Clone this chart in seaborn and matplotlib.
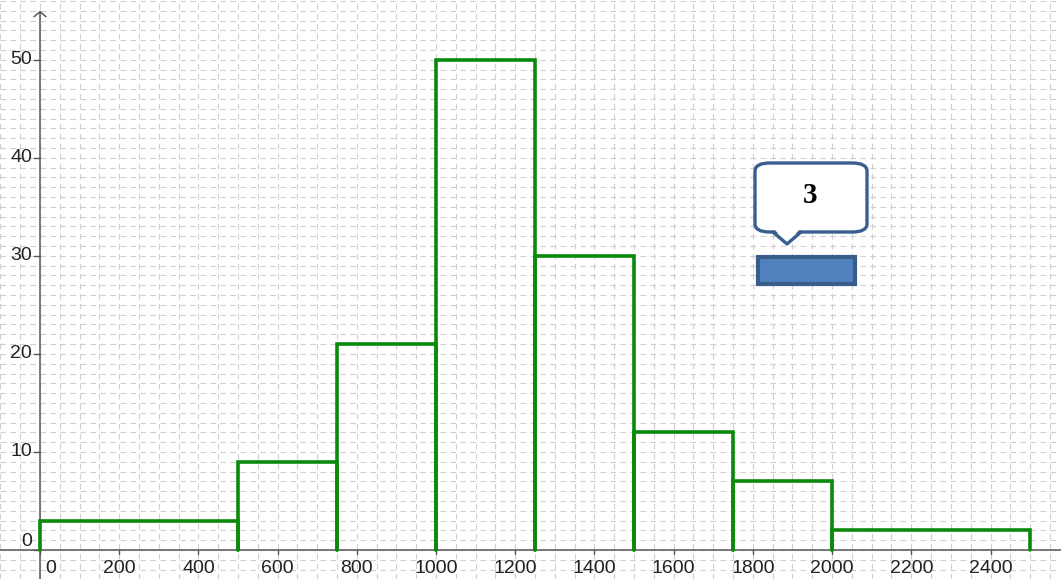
import numpy as np
import pandas as pd
import matplotlib
matplotlib.use("Agg")
import matplotlib.pyplot as plt
import seaborn as sns
from matplotlib.patches import FancyBboxPatch, Polygon, Rectangle
from matplotlib.lines import Line2D

# bin edges and frequency density
bin_edges = [0, 500, 750, 1000, 1250, 1500, 1750, 2000, 2500]
heights = [3, 9, 21, 50, 30, 12, 7, 2]
x_labels = [0, 200, 400, 600, 800, 1000, 1200, 1400, 1600, 1800, 2000, 2200, 2400]
y_labels = [0, 10, 20, 30, 40, 50]
callout_text = "3"

mids = [(a + b) / 2 for a, b in zip(bin_edges[:-1], bin_edges[1:])]
df = pd.DataFrame({"value": mids, "density": heights})

sns.set_style("white")
plt.rcParams["font.family"] = ["Liberation Sans", "DejaVu Sans"]

W, H = 1061, 579
fig = plt.figure(figsize=(W / 100, H / 100), dpi=100)
ax = fig.add_axes([0, 0, 1, 1])

# grid like geogebra: dashed light grey every 50 in x and 1 in y
for gx in np.arange(-100, 2600, 50):
    ax.axvline(gx, color="#cfcfcf", lw=0.8, ls=(0, (5, 4)), zorder=0)
for gy in np.arange(-3, 57, 1):
    ax.axhline(gy, color="#cfcfcf", lw=0.8, ls=(0, (5, 4)), zorder=0)

sns.histplot(data=df, x="value", weights="density", bins=bin_edges, stat="count",
             fill=False, color="#0a8a0a", linewidth=2.6, ax=ax, zorder=3)

# redraw bars as open outlines (no bottom edge, like the reference)
for p in list(ax.patches):
    x0, y0, w, h = p.get_x(), p.get_y(), p.get_width(), p.get_height()
    ax.plot([x0, x0, x0 + w, x0 + w], [y0, y0 + h, y0 + h, y0],
            color="#0a8a0a", lw=2.6, zorder=3, solid_joinstyle="miter")
    p.remove()

ax.set_xlim(-101, 2578)
ax.set_ylim(-2.96, 56.1)
for s in ax.spines.values():
    s.set_visible(False)
ax.set_xticks([])
ax.set_yticks([])
ax.set_xlabel("")
ax.set_ylabel("")

# axes lines
ax.axhline(0, color="#555555", lw=1.1, zorder=2)
ax.plot([0, 0], [-3, 54.9], color="#555555", lw=1.1, zorder=2)
ax.plot([-15, 0, 15], [54.4, 54.9, 54.4], color="#555555", lw=1.1, zorder=2,
        solid_capstyle="round")

# ticks and labels
for v in x_labels:
    ax.plot([v, v], [0, -0.45], color="#555555", lw=1, zorder=2)
    if v == 0:
        ax.text(v + 12, -1.85, str(v), ha="left", va="center", fontsize=14, color="#222222")
    else:
        ax.text(v, -1.85, str(v), ha="center", va="center", fontsize=14, color="#222222")
for v in y_labels:
    ax.plot([-15, 0], [v, v], color="#555555", lw=1, zorder=2)
    if v == 0:
        ax.text(-20, 0.9, str(v), ha="right", va="center", fontsize=14, color="#222222")
    else:
        ax.text(-20, v, str(v), ha="right", va="center", fontsize=14, color="#222222")


def px(x, y):
    return (x / W, 1 - y / H)


# speech bubble
box_col = "#3a5f8f"
bx0, by0 = px(755, 232)
bx1, by1 = px(867, 163)
bubble = FancyBboxPatch((bx0, by0), bx1 - bx0, by1 - by0,
                        boxstyle="round,pad=0,rounding_size=0.014",
                        transform=fig.transFigure, facecolor="white",
                        edgecolor=box_col, lw=2.4, zorder=5)
fig.patches.append(bubble)
cover = Polygon([px(774, 229), px(800, 229), px(787, 243)], closed=True,
                transform=fig.transFigure, facecolor="white", edgecolor="none", zorder=6)
fig.patches.append(cover)
fig.lines.append(Line2D([px(773, 232)[0], px(787, 244)[0], px(801, 232)[0]],
                        [px(773, 232)[1], px(787, 244)[1], px(801, 232)[1]],
                        transform=fig.transFigure, color=box_col, lw=2.4, zorder=7,
                        solid_joinstyle="round"))
fig.text(*px(810, 196), callout_text, ha="center", va="center", fontsize=21,
         fontweight="bold", family=["Liberation Serif", "DejaVu Serif"], color="black", zorder=8)

rx0, ry0 = px(758, 284)
rx1, ry1 = px(855, 257)
rect = Rectangle((rx0, ry0), rx1 - rx0, ry1 - ry0, transform=fig.transFigure,
                 facecolor="#4f81bd", edgecolor="#385d8a", lw=3, zorder=5)
fig.patches.append(rect)

fig.savefig("out.png", dpi=100)
